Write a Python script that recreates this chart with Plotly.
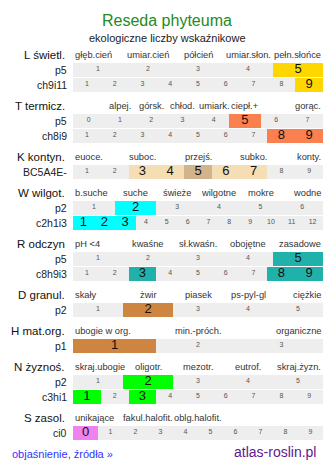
import plotly.graph_objects as go

# ---------------- data ----------------
title = "Reseda phyteuma"
subtitle = "ekologiczne liczby wskaźnikowe"

traits = ["L świetl.", "T termicz.", "K kontyn.", "W wilgot.", "R odczyn",
          "D granul.", "H mat.org.", "N żyznoś.", "S zasol."]

header_labels = [
    ["głęb.cień", "umiar.cień", "półcień", "umiar.słon.", "pełn.słońce"],
    ["", "alpej.", "górsk.", "chłod.", "umiark.", "ciepł.+", "", "gorąc."],
    ["euoce.", "", "suboc.", "", "przejś.", "", "subko.", "", "konty."],
    ["b.suche", "suche", "świeże", "wilgotne", "mokre", "wodne"],
    ["pH <4", "kwaśne", "sł.kwaśn.", "obojętne", "zasadowe"],
    ["skały", "żwir", "piasek", "ps-pyl-gl", "ciężkie"],
    ["ubogie w org.", "", "min.-próch.", "", "organiczne"],
    ["skraj.ubogie", "oligotr.", "mezotr.", "eutrof.", "skraj.żyzn."],
    ["unikające", "fakul.halofit.", "oblg.halofit.", "", ""],
]

row_names = [
    ["p5", "ch9i11"],
    ["p5", "ch8i9"],
    ["BC5A4E-"],
    ["p2", "c2h1i3"],
    ["p5", "c8h9i3"],
    ["p2"],
    ["p1"],
    ["p2", "c3hi1"],
    ["ci0"],
]

row_scales = [
    [list(range(1, 6)), list(range(1, 10))],
    [list(range(0, 8)), list(range(1, 10))],
    [list(range(1, 10))],
    [list(range(1, 7)), list(range(1, 13))],
    [list(range(1, 6)), list(range(1, 10))],
    [list(range(1, 6))],
    [list(range(1, 4))],
    [list(range(1, 6)), list(range(1, 10))],
    [list(range(0, 10))],
]

row_values = [
    [[5], [9]],
    [[5], [8, 9]],
    [[3, 4, 5, 6, 7]],
    [[2], [1, 2, 3]],
    [[5], [3, 8, 9]],
    [[2]],
    [[1]],
    [[2], [1, 3]],
    [[0]],
]

row_dark_values = [
    [[], []],
    [[], []],
    [[5]],
    [[], []],
    [[], []],
    [[]],
    [[]],
    [[], []],
    [[]],
]

trait_colors = ["#FFD700", "#FA8050", "#F5DEB3", "#00FFFF", "#20B2AA",
                "#CD853F", "#CD853F", "#00FF00", "#EE82EE"]
dark_color = "#D2B48C"

# ---------------- layout constants ----------------
W, H = 334, 469
X0, X1 = 73, 323
FIRST_ROW_Y = 69.5
ROW_STRIDE = 15
ROW_H = 14
GROUP_ADV = 36
FONT = "Liberation Sans, Arial, sans-serif"

bg_y, bg_base, bg_w = [], [], []
hl = {}  # color -> lists
num_x, num_y, num_t = [], [], []
big_x, big_y, big_t = [], [], []
annotations = []

y = FIRST_ROW_Y
for ti, trait in enumerate(traits):
    head_y = y - ROW_STRIDE
    annotations.append(dict(x=67, y=head_y, text=trait, xanchor="right",
                            font=dict(size=11.5, color="#111")))
    labs = header_labels[ti]
    n = len(labs)
    cw = (X1 - X0) / n
    for li, lab in enumerate(labs):
        if not lab:
            continue
        if li == 0:
            xa, xx = "left", X0
        elif li == n - 1:
            xa, xx = "right", X1
        else:
            xa, xx = "center", X0 + cw * (li + 0.5)
        annotations.append(dict(x=xx, y=head_y, text=lab, xanchor=xa,
                                font=dict(size=9.3, color="#333")))
    for ri, rname in enumerate(row_names[ti]):
        ry = y + ri * ROW_STRIDE
        annotations.append(dict(x=69, y=ry, text=rname, xanchor="right",
                                font=dict(size=10.5, color="#222")))
        scale = row_scales[ti][ri]
        m = len(scale)
        cw2 = (X1 - X0) / m
        bg_y.append(ry); bg_base.append(X0); bg_w.append(X1 - X0)
        vals = row_values[ti][ri]
        darks = row_dark_values[ti][ri]
        for ci, v in enumerate(scale):
            cx = X0 + cw2 * (ci + 0.5)
            if v in vals:
                col = dark_color if v in darks else trait_colors[ti]
                d = hl.setdefault(col, ([], [], []))
                d[0].append(ry); d[1].append(X0 + cw2 * ci); d[2].append(cw2)
                big_x.append(cx); big_y.append(ry); big_t.append(str(v))
            else:
                num_x.append(cx); num_y.append(ry); num_t.append(str(v))
    y += GROUP_ADV + ROW_STRIDE * (len(row_names[ti]) - 1)

fig = go.Figure()
fig.add_trace(go.Bar(y=bg_y, x=bg_w, base=bg_base, orientation="h", width=ROW_H,
                     marker=dict(color="#EEEEEE", line=dict(width=0)),
                     hoverinfo="skip", showlegend=False))
for col, (yy, bb, ww) in hl.items():
    fig.add_trace(go.Bar(y=yy, x=ww, base=bb, orientation="h", width=ROW_H,
                         marker=dict(color=col, line=dict(width=0)),
                         hoverinfo="skip", showlegend=False))
fig.add_trace(go.Scatter(x=num_x, y=num_y, text=num_t, mode="text",
                         textfont=dict(size=7, color="#555", family=FONT),
                         hoverinfo="skip", showlegend=False))
fig.add_trace(go.Scatter(x=big_x, y=big_y, text=big_t, mode="text",
                         textfont=dict(size=13, color="#111", family=FONT),
                         hoverinfo="skip", showlegend=False))

annotations.append(dict(x=W / 2, y=20, text=title, xanchor="center",
                        font=dict(size=16, color="#228B22")))
annotations.append(dict(x=W / 2, y=38, text=subtitle, xanchor="center",
                        font=dict(size=11, color="#222")))
annotations.append(dict(x=10, y=454, text="objaśnienie, źródła »", xanchor="left",
                        font=dict(size=11, color="#3333FF")))
annotations.append(dict(x=318, y=452, text="atlas-roslin.pl", xanchor="right",
                        font=dict(size=14, color="#601990")))

for a in annotations:
    a.update(xref="x", yref="y", yanchor="middle", showarrow=False)
    a["font"]["family"] = FONT

fig.update_layout(
    width=W, height=H, margin=dict(l=0, r=0, t=0, b=0),
    paper_bgcolor="white", plot_bgcolor="white",
    barmode="overlay", bargap=0,
    xaxis=dict(range=[0, W], visible=False, fixedrange=True),
    yaxis=dict(range=[H, 0], visible=False, fixedrange=True),
    annotations=annotations, font=dict(family=FONT),
)
fig.write_html("out.html")
